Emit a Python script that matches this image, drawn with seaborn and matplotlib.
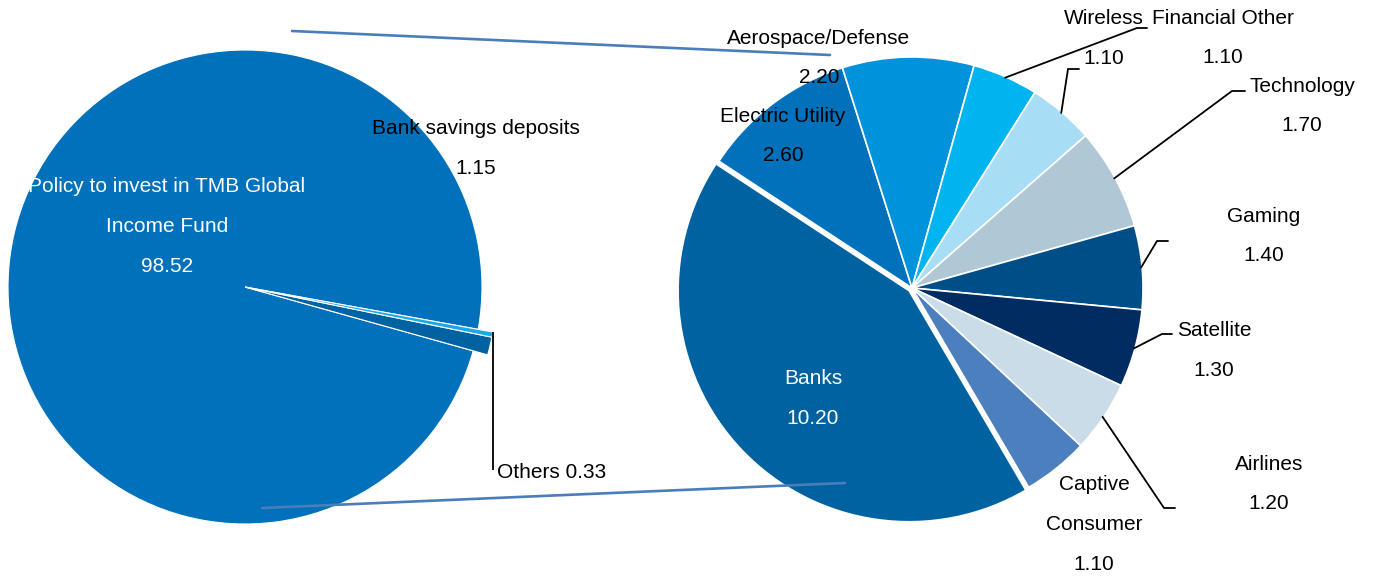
import matplotlib
matplotlib.use("Agg")
import matplotlib.pyplot as plt
import seaborn as sns
import numpy as np

# ---------------- data ----------------
left_labels = ["Policy to invest in TMB Global\nIncome Fund", "Bank savings deposits", "Others"]
left_values = [98.52, 1.15, 0.33]

right_labels = ["Electric Utility", "Aerospace/Defense", "Wireless", "Financial Other",
                "Technology", "Gaming", "Satellite", "Airlines", "Captive\nConsumer", "Banks"]
right_values = [2.60, 2.20, 1.10, 1.10, 1.70, 1.40, 1.30, 1.20, 1.10, 10.20]

# ---------------- style ----------------
left_colors = ["#0071BA", "#0062A0", "#19A8E8"]
right_colors = ["#0071BA", "#0093DB", "#00B5EF", "#A8DDF6", "#B0C8D6",
                "#004E87", "#002C62", "#C9DCE7", "#4C7FBE", "#0062A0"]

W, H = 1373, 577
sns.set_theme(style="white")
plt.rcParams["font.family"] = ["Liberation Sans", "DejaVu Sans"]
FS = 15
LINE = 39.5
TXT_DY = 2  # small downward nudge of text

def Y(py):
    return H - py

fig = plt.figure(figsize=(W / 100, H / 100), dpi=100)
ax = fig.add_axes([0, 0, 1, 1])

# ---------------- left pie ----------------
lc = (245, Y(287))
lw_, _ = ax.pie(left_values, colors=left_colors, startangle=-10.3, counterclock=True,
                center=lc, radius=237,
                wedgeprops=dict(edgecolor="white", linewidth=0.8))
for w in lw_[1:]:
    w.set_radius(252)

# ---------------- right pie ----------------
rc = (912, Y(288))
explode = [0] * (len(right_values) - 1) + [4]
rw, _ = ax.pie(right_values, colors=right_colors, startangle=146.7, counterclock=False,
               center=rc, radius=231, explode=explode,
               wedgeprops=dict(edgecolor="white", linewidth=1.2))

# ---------------- labels ----------------
def put_label(text, value, x, y, color):
    lines = text.split("\n") + ["%.2f" % value]
    for i, ln in enumerate(lines):
        ax.text(x, Y(y + TXT_DY + i * LINE), ln, ha="center", va="center",
                fontsize=FS, color=color)

left_pos = [(167, 185, "white"), (476, 127, "black")]
for lab, val, (x, y, c) in zip(left_labels[:2], left_values[:2], left_pos):
    put_label(lab, val, x, y, c)

# "Others" label with leader line from outer corner of its wedge
w_oth = lw_[2]
t2 = np.deg2rad(w_oth.theta2)
sx = w_oth.center[0] + w_oth.r * np.cos(t2)
sy = w_oth.center[1] + w_oth.r * np.sin(t2)
ax.plot([sx, sx], [sy, Y(470)], color="black", lw=1.3, solid_capstyle="butt")
ax.text(497, Y(471 + TXT_DY), "%s %.2f" % (left_labels[2], left_values[2]), ha="left",
        va="center", fontsize=FS, color="black")

right_pos = [(783, 114, "black"), (819, 36, "black"), (1104, 17, "black"),
             (1223, 16, "black"), (1302, 84, "black"), (1264, 214, "black"),
             (1214, 329, "black"), (1269, 462, "black"), (1094, 483, "black"),
             (813, 377, "white")]
for lab, val, (x, y, c) in zip(right_labels, right_values, right_pos):
    put_label(lab, val, x, y, c)

# leader lines (elbow and end points, pixel coords) for the outer labels
leaders = {2: [(1137, 28), (1147, 28)],
           3: [(1068, 69), (1079, 69)],
           4: [(1232, 91), (1245, 91)],
           5: [(1157, 241), (1168, 241)],
           6: [(1162, 334), (1172, 334)],
           7: [(1164, 508), (1175, 508)]}
for idx, pts in leaders.items():
    w = rw[idx]
    tm = np.deg2rad((w.theta1 + w.theta2) / 2)
    sx = w.center[0] + (w.r - 1) * np.cos(tm)
    sy = w.center[1] + (w.r - 1) * np.sin(tm)
    xs = [sx] + [p[0] for p in pts]
    ys = [sy] + [Y(p[1]) for p in pts]
    ax.plot(xs, ys, color="black", lw=1.3, solid_joinstyle="miter")

# connector lines between the two pies
for (x0, y0), (x1, y1) in [((292, 31), (830, 55)), ((262, 508), (845, 483))]:
    ax.plot([x0, x1], [Y(y0), Y(y1)], color="#4A7EBB", lw=1.9, zorder=5)

ax.set_xlim(0, W)
ax.set_ylim(0, H)
ax.set_aspect("equal", adjustable="box")
ax.axis("off")
fig.savefig("out.png", dpi=100, facecolor="white")
